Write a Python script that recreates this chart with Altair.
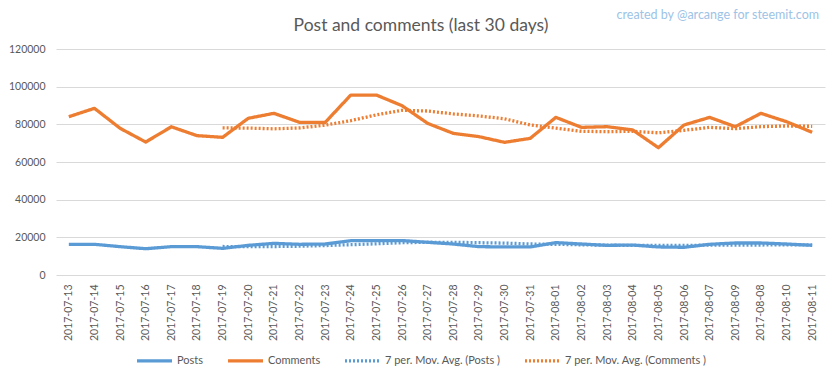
import altair as alt
import pandas as pd

dates = ["2017-07-13", "2017-07-14", "2017-07-15", "2017-07-16", "2017-07-17",
         "2017-07-18", "2017-07-19", "2017-07-20", "2017-07-21", "2017-07-22",
         "2017-07-23", "2017-07-24", "2017-07-25", "2017-07-26", "2017-07-27",
         "2017-07-28", "2017-07-29", "2017-07-30", "2017-07-31", "2017-08-01",
         "2017-08-02", "2017-08-03", "2017-08-04", "2017-08-05", "2017-08-06",
         "2017-08-07", "2017-08-09", "2017-08-08", "2017-08-10", "2017-08-11"]

posts = [16300, 16300, 15050, 13950, 15050, 15050, 14150, 15750, 16800, 16300,
         16450, 18200, 18300, 18300, 17350, 16450, 15050, 14900, 14900, 17200,
         16450, 15750, 15900, 14900, 14700, 16300, 17000, 17000, 16450, 15750]

comments = [84050, 88500, 77900, 70600, 78700, 74000, 73100, 83200, 85850, 81050,
            81000, 95550, 95550, 89900, 80500, 75200, 73450, 70450, 72550, 83700,
            78400, 78750, 77000, 67600, 79650, 83700, 78750, 85850, 81400, 75750]

series_names = ["Posts", "Comments", "7 per. Mov. Avg. (Posts )", "7 per. Mov. Avg. (Comments )"]
series_colors = ["#5B9BD5", "#ED7D31", "#5B9BD5", "#ED7D31"]
y_ticks = [0, 20000, 40000, 60000, 80000, 100000, 120000]
title_text = "Post and comments (last 30 days)"
watermark = ["created by @arcange for steemit.com"]

df = pd.DataFrame({"date": dates, "idx": list(range(len(dates))),
                   "Posts": posts, "Comments": comments})

FONT = "Lato"
GREY = "#595959"

legend = alt.Legend(title=None, orient="none", legendX=79, legendY=292,
                    direction="horizontal", symbolType="stroke", symbolSize=1225,
                    labelFont=FONT, labelFontSize=11, labelColor=GREY,
                    columnPadding=17, labelOffset=3)

lines = alt.Chart(df).transform_window(
    maP="mean(Posts)", maC="mean(Comments)", frame=[-6, 0],
    sort=[alt.SortField("idx")]
).transform_fold(
    ["Posts", "Comments", "maP", "maC"], as_=["key", "value"]
).transform_filter(
    "datum.idx >= 6 || datum.key == 'Posts' || datum.key == 'Comments'"
).transform_calculate(
    series="datum.key == 'maP' ? '7 per. Mov. Avg. (Posts )' : "
           "(datum.key == 'maC' ? '7 per. Mov. Avg. (Comments )' : datum.key)"
).mark_line(strokeJoin="round").encode(
    x=alt.X("date:N", sort=dates, title=None,
            axis=alt.Axis(labelAngle=-90, domain=False, ticks=False, grid=False,
                          labelFont=FONT, labelFontSize=10.5, labelColor=GREY,
                          labelPadding=9)),
    y=alt.Y("value:Q", title=None,
            scale=alt.Scale(domain=[0, 120000], nice=False),
            axis=alt.Axis(values=y_ticks, format="d", domain=False, ticks=False,
                          gridColor="#d9d9d9", labelFont=FONT, labelFontSize=10.5,
                          labelColor=GREY, labelPadding=11)),
    color=alt.Color("series:N", scale=alt.Scale(domain=series_names, range=series_colors),
                    legend=legend),
    strokeDash=alt.StrokeDash("series:N",
                              scale=alt.Scale(domain=series_names,
                                              range=[[1, 0], [1, 0], [2, 2], [2, 2]]),
                              legend=legend),
    strokeWidth=alt.StrokeWidth("series:N",
                                scale=alt.Scale(domain=series_names,
                                                range=[3.3, 3.3, 2, 2]),
                                legend=legend),
    order=alt.Order("idx:Q"),
)

wm = alt.Chart(pd.DataFrame({"t": watermark})).mark_text(
    align="right", baseline="middle", font=FONT, fontSize=12.5, color="#9DC3E6"
).encode(text="t:N", x=alt.value(763), y=alt.value(-34.5))

chart = alt.layer(lines, wm).properties(
    width=769, height=226,
    title=alt.TitleParams(title_text, font=FONT, fontSize=17.5, fontWeight="normal",
                          color=GREY, anchor="middle", frame="group", dx=-19.5,
                          offset=-26),
    autosize=alt.AutoSizeParams(type="none"),
    padding={"left": 48, "top": 41, "right": 7, "bottom": 94},
    background="white",
).configure_view(strokeWidth=0)

chart.save("out.html", embed_options={"renderer": "svg", "actions": False})
